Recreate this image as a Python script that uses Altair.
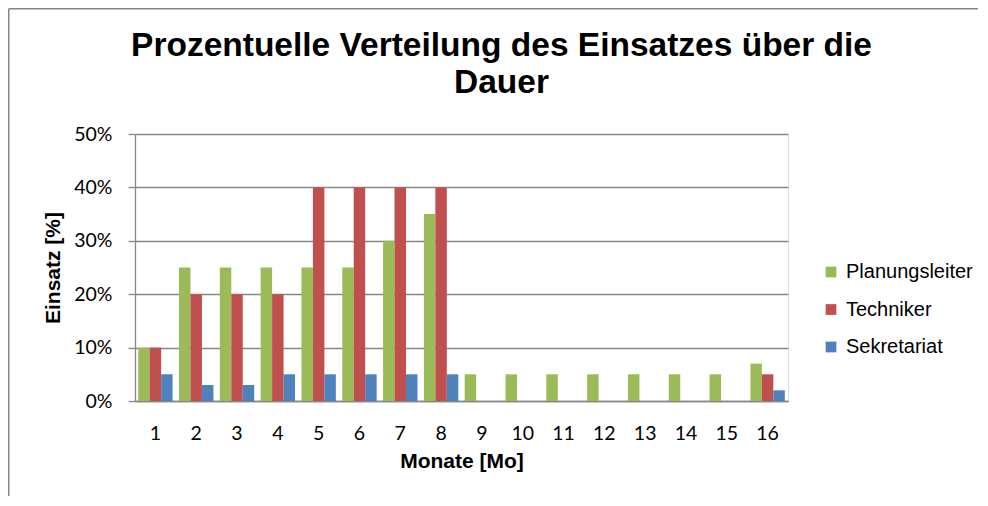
import altair as alt
import pandas as pd

months = [str(i) for i in range(1, 17)]
series = ["Planungsleiter", "Techniker", "Sekretariat"]
planungsleiter = [10, 25, 25, 25, 25, 25, 30, 35, 5, 5, 5, 5, 5, 5, 5, 7]
techniker = [10, 20, 20, 20, 40, 40, 40, 40, 0, 0, 0, 0, 0, 0, 0, 5]
sekretariat = [5, 3, 3, 5, 5, 5, 5, 5, 0, 0, 0, 0, 0, 0, 0, 2]
colors = ["#9BBB59", "#C0504D", "#4F81BD"]
y_ticks = [0, 10, 20, 30, 40, 50]
title_lines = ["Prozentuelle Verteilung des Einsatzes über die", "Dauer"]

rows = []
for name, vals in zip(series, [planungsleiter, techniker, sekretariat]):
    for m, v in zip(months, vals):
        rows.append({"Monat": m, "Serie": name, "Einsatz": v})
df = pd.DataFrame(rows)

W, H = 653, 267
PL, PT, PR, PB = 127, 126, 190, 95
GRAY = "#868686"

bars = alt.Chart(df).mark_bar().encode(
    x=alt.X(
        "Monat:N",
        sort=months,
        scale=alt.Scale(paddingInner=0.157, paddingOuter=0.078),
        axis=alt.Axis(
            title="Monate [Mo]",
            labelAngle=0,
            ticks=False,
            tickSize=0,
            labelPadding=23,
            labelBaseline="top",
            labelFont="Lato",
            labelFontSize=19.5,
            labelColor="#000000",
            domainColor=GRAY,
            domainWidth=1.3,
            titleFont="Liberation Sans",
            titleFontSize=21,
            titleFontWeight="bold",
            titleColor="#000000",
            titleX=W / 2,
            titleY=66,
            titleBaseline="alphabetic",
            grid=False,
        ),
    ),
    xOffset=alt.XOffset("Serie:N", sort=series, scale=alt.Scale(paddingInner=0, paddingOuter=0)),
    y=alt.Y(
        "Einsatz:Q",
        scale=alt.Scale(domain=[0, 50], nice=False),
        axis=alt.Axis(
            title="Einsatz [%]",
            values=y_ticks,
            labelExpr="datum.value + '%'",
            tickSize=7,
            tickColor=GRAY,
            tickWidth=1.3,
            labelPadding=16,
            labelFont="Lato",
            labelFontSize=19.5,
            labelColor="#000000",
            domainColor=GRAY,
            domainWidth=1.3,
            gridColor=GRAY,
            gridWidth=1.3,
            titleFont="Liberation Sans",
            titleFontSize=21,
            titleFontWeight="bold",
            titleColor="#000000",
            titleAngle=270,
            titleX=-82,
            titleY=H / 2,
            titleBaseline="middle",
            titleAlign="center",
        ),
    ),
    color=alt.Color(
        "Serie:N",
        sort=series,
        scale=alt.Scale(domain=series, range=colors),
        legend=alt.Legend(
            title=None,
            orient="none",
            legendX=686,
            legendY=128,
            direction="vertical",
            symbolType="square",
            symbolSize=115,
            symbolStrokeWidth=0,
            labelFont="Liberation Sans",
            labelFontSize=20,
            labelColor="#000000",
            labelOffset=5,
            rowPadding=17.5,
            padding=0,
        ),
    ),
)

frame_df = pd.DataFrame({"k": [0]})
left_line = alt.Chart(frame_df).mark_rule(color=GRAY, strokeWidth=1.5).encode(
    x=alt.value(-PL + 0.75), y=alt.value(-PT + 0.75), y2=alt.value(H + PB)
)
top_line = alt.Chart(frame_df).mark_rule(color=GRAY, strokeWidth=1.5).encode(
    x=alt.value(-PL + 0.75), x2=alt.value(W + PR), y=alt.value(-PT + 0.75)
)

chart = alt.layer(bars, left_line, top_line).properties(
    width=W,
    height=H,
    padding={"left": PL, "top": PT, "right": PR, "bottom": PB},
    autosize=alt.AutoSizeParams(type="none"),
    title=alt.TitleParams(
        text=title_lines,
        font="Liberation Sans",
        fontSize=33.5,
        fontWeight="bold",
        color="#000000",
        anchor="middle",
        dx=40,
        dy=92,
        lineHeight=37,
        offset=0,
    ),
).configure_view(stroke=None).configure(background="#ffffff")

chart.save("out.html", embed_options={"renderer": "svg", "actions": False})
